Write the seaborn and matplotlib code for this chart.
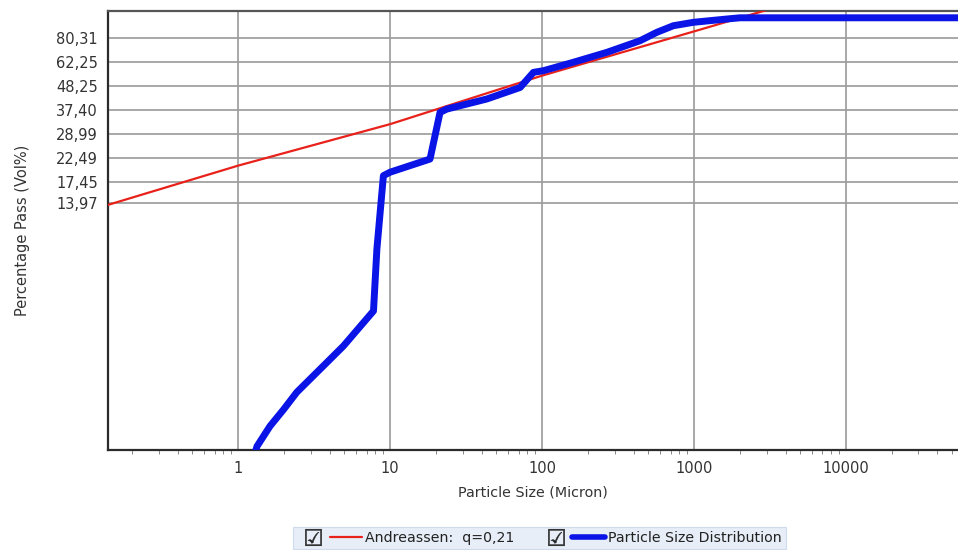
import matplotlib
matplotlib.use("Agg")
import matplotlib.pyplot as plt
from matplotlib.lines import Line2D
from matplotlib.legend_handler import HandlerTuple
from matplotlib.ticker import FixedLocator, LogLocator, NullFormatter, NullLocator
import seaborn as sns
import pandas as pd

# ---- data ----
andreassen_size = [0.138, 1, 10, 100, 1000, 3200]
andreassen_pass = [13.6, 20.7, 32.2, 54.0, 86.5, 110.0]

psd_size = [1.29, 1.33, 1.62, 1.99, 2.43, 3.83, 4.93, 7.77, 8.18, 9.03, 10.0, 18.3,
            21.3, 23.6, 43.3, 71.7, 87.7, 102, 160, 267, 441, 568, 731, 990,
            1642, 2009, 60000]
psd_pass = [0.97, 1.04, 1.29, 1.54, 1.85, 2.54, 3.03, 4.40, 8.50, 18.6, 19.3, 22.2,
            36.5, 37.8, 42.1, 47.6, 55.9, 56.9, 62.2, 69.2, 78.3, 85.6, 91.9, 95.3,
            98.7, 100.0, 100.0]

y_ticks = [13.97, 17.45, 22.49, 28.99, 37.40, 48.25, 62.25, 80.31]
y_tick_labels = ["13,97", "17,45", "22,49", "28,99", "37,40", "48,25", "62,25", "80,31"]
x_ticks = [1, 10, 100, 1000, 10000]
x_tick_labels = ["1", "10", "100", "1000", "10000"]

label_red = "Andreassen:  q=0,21"
label_blue = "Particle Size Distribution"

# ---- figure ----
sns.set_style("white")
plt.rcParams["font.family"] = ["DejaVu Sans"]

fig = plt.figure(figsize=(9.58, 5.5), dpi=100)
ax = fig.add_axes([107.5 / 958, 100 / 550, 1 - 107.5 / 958, 439 / 550])

df_red = pd.DataFrame({"size": andreassen_size, "pass": andreassen_pass})
df_blue = pd.DataFrame({"size": psd_size, "pass": psd_pass})

sns.lineplot(data=df_red, x="size", y="pass", ax=ax, color="#e8221b",
             linewidth=1.6, estimator=None, sort=False, zorder=3)
sns.lineplot(data=df_blue, x="size", y="pass", ax=ax, color="#0a14e6",
             linewidth=5.0, estimator=None, sort=False, zorder=4,
             solid_joinstyle="round", solid_capstyle="butt")

ax.set_xscale("log")
ax.set_yscale("log")
ax.set_xlim(0.138, 54600)
ax.set_ylim(1.0, 107.5)

ax.yaxis.set_major_locator(FixedLocator(y_ticks))
ax.set_yticklabels(y_tick_labels)
ax.yaxis.set_minor_locator(NullLocator())
ax.xaxis.set_major_locator(FixedLocator(x_ticks))
ax.set_xticklabels(x_tick_labels)
ax.xaxis.set_minor_locator(LogLocator(base=10, subs=range(2, 10), numticks=50))
ax.xaxis.set_minor_formatter(NullFormatter())

ax.grid(True, which="major", color="#9a9a9a", linewidth=1.2, zorder=1)
ax.set_axisbelow(True)

for side in ["left", "top", "bottom"]:
    ax.spines[side].set_visible(True)
    ax.spines[side].set_color("#2b2b2b")
    ax.spines[side].set_linewidth(1.6)
ax.spines["right"].set_visible(False)
ax.spines["top"].set_color("#555555")

ax.tick_params(axis="both", which="major", direction="out", length=3, width=0.8,
               color="#555555", labelsize=10.5, labelcolor="#333333", pad=4)
ax.tick_params(axis="x", which="minor", direction="out", length=3, width=0.6,
               color="#777777", bottom=True)
ax.tick_params(axis="x", which="major", pad=5)

ax.set_xlabel("Particle Size (Micron)", fontsize=10.3, color="#333333", labelpad=7)
ax.set_ylabel("Percentage Pass (Vol%)", fontsize=10.5, color="#333333", labelpad=19)

# ---- legend with checkbox glyphs ----
def checkbox():
    return Line2D([], [], linestyle="none", marker="$\u2611$", markersize=12,
                  markerfacecolor="#222222", markeredgecolor="#222222", markeredgewidth=0.3)

h_red = Line2D([], [], color="#e8221b", linewidth=1.6)
h_blue = Line2D([], [], color="#0a14e6", linewidth=4.0)

leg = fig.legend([(checkbox(), h_red), (checkbox(), h_blue)], [label_red, label_blue],
                 handler_map={tuple: HandlerTuple(ndivide=None, pad=0.05)},
                 loc="center", bbox_to_anchor=(539 / 958, 1 - 538 / 550),
                 ncol=2, fontsize=10.2, frameon=True, fancybox=False,
                 handlelength=4.6, handletextpad=0.2, columnspacing=1.8,
                 borderpad=0.3, borderaxespad=0)
leg.get_frame().set_facecolor("#e2eaf6")
leg.get_frame().set_edgecolor("#c6d4ea")
leg.get_frame().set_linewidth(0.8)
for t in leg.get_texts():
    t.set_color("#222222")

fig.savefig("out.png", dpi=100)
